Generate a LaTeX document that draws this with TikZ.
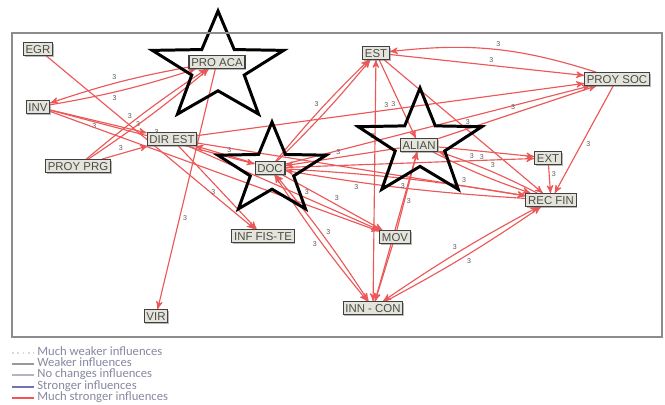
\documentclass[tikz,border=0pt]{standalone}
\usepackage{fontspec}
\setmainfont{Liberation Sans}
\newfontfamily\legendfont{Carlito}
\usetikzlibrary{arrows}
\usetikzlibrary{shadows}
\definecolor{linkred}{RGB}{236,88,88}
\definecolor{boxfill}{RGB}{228,228,218}
\definecolor{legtext}{RGB}{135,135,160}
\pgfdeclarelayer{edgelayer}
\pgfdeclarelayer{starlayer}
\pgfsetlayers{edgelayer,starlayer,main}
\tikzset{
    factor/.style={
        draw=black!75,
        fill=boxfill,
        line width=0.6pt,
        inner sep=1.3pt,
        text height=4.7pt,
        text depth=0pt,
        text=black!70,
        font=\fontsize{6.5}{6.5}\selectfont,
        drop shadow={shadow xshift=0.7pt,shadow yshift=-0.7pt,fill=black!55}},
    starline/.style={
        draw=black,
        line width=1.7pt,
        line join=miter},
    every edge/.style={
        draw=linkred,
        ->,>=stealth',
        auto,
        line width=0.65pt},
    legline/.style={line width=1pt},
    legentry/.style={
        anchor=west,
        text=legtext,
        font=\legendfont\fontsize{7.2}{7.2}\selectfont,
        inner sep=0pt,
        text height=4.2pt,
        text depth=0.9pt}}
\newcommand{\keystar}[4]{%
    \draw[starline,shift={(#1,#2)},xscale=#3,yscale=-#4]
        (90:1) -- (126:0.4) -- (162:1) -- (198:0.4) -- (234:1) -- (270:0.4)
        -- (306:1) -- (342:0.4) -- (18:1) -- (54:0.4) -- cycle;}
\begin{document}
\begin{tikzpicture}[x=0.2mm,y=-0.2mm]
    \useasboundingbox (0,0) rectangle (665,405);
    \draw[black!45,line width=1pt] (12,33) rectangle (662,337);

    % factors
    \node[factor] (egr) at (38,49) {EGR};
    \node[factor] (inv) at (38,107) {INV};
    \node[factor] (proyprg) at (78,166) {PROY PRG};
    \node[factor] (proaca) at (217,62) {PRO ACA};
    \node[factor] (direst) at (172,139) {DIR EST};
    \node[factor] (doc) at (270,168) {DOC};
    \node[factor] (inffis) at (263,236) {INF FIS-TE};
    \node[factor] (vir) at (156,316) {VIR};
    \node[factor] (est) at (376,53) {EST};
    \node[factor] (proysoc) at (617,79) {PROY SOC};
    \node[factor] (alian) at (419,145) {ALIAN};
    \node[factor] (ext) at (548,158) {EXT};
    \node[factor] (recfin) at (551,200) {REC FIN};
    \node[factor] (mov) at (395,237) {MOV};
    \node[factor] (inncon) at (373,308) {INN - CON};

    % stars
    \begin{pgfonlayer}{starlayer}
        \keystar{218}{68}{69}{57}
        \keystar{272}{170}{57}{48}
        \keystar{420}{144}{65}{56}
    \end{pgfonlayer}

    % influences
    \begin{pgfonlayer}{edgelayer}
    \begin{scope}[every node/.style={font=\fontsize{4}{4}\selectfont,text=black!65,inner sep=1pt}]
        \draw (egr) edge node[pos=0.42] {3} (inffis);
        \draw (proaca) edge[bend right=4] node[swap] {3} (inv);
        \draw (inv) edge[bend right=4] node[swap,pos=0.4] {3} (proaca);
        \draw (proyprg) edge[bend left=3] node[pos=0.4] {3} (proaca);
        \draw (proyprg) edge[bend right=3] (proaca);
        \draw (proaca) edge node[pos=0.6] {3} (vir);
        \draw (inv) edge node[swap] {3} (direst);
        \draw (inv) edge node {3} (doc);
        \draw (inv) edge (mov);
        \draw (proyprg) edge node {3} (direst);
        \draw (doc) edge node[swap] {3} (direst);
        \draw (direst) edge node {3} (proysoc);
        \draw (direst) edge node[swap] {3} (inffis);
        \draw (direst) edge node[pos=0.6] {3} (mov);
        \draw (direst) edge node[pos=0.8] {3} (recfin);
        \draw (doc) edge[bend left=3] node {3} (est);
        \draw (doc) edge[bend right=3] (est);
        \draw (proysoc) edge[bend right=12] node[swap] {3} (est);
        \draw (est) edge node {3} (proysoc);
        \draw (inncon) edge[<->] (est);
        \draw (est) edge node[swap] {3} (alian);
        \draw (est) edge node {3} (recfin);
        \draw (doc) edge node[pos=0.3] {3} (proysoc);
        \draw (alian) edge node {3} (proysoc);
        \draw (alian) edge node[swap] {3} (ext);
        \draw (doc) edge node[pos=0.75] {3} (ext);
        \draw (recfin) edge[bend right=4] node[swap] {3} (alian);
        \draw (alian) edge[bend right=4] (recfin);
        \draw (alian) edge node[swap] {3} (doc);
        \draw (recfin) edge[bend left=3] node[pos=0.7] {3} (doc);
        \draw (doc) edge[bend left=3] (recfin);
        \draw (ext) edge node {3} (recfin);
        \draw (proysoc) edge node {3} (recfin);
        \draw (doc) edge node {3} (mov);
        \draw (doc) edge[<->,bend right=3] node[swap] {3} (inncon);
        \draw (doc) edge[<->,bend left=3] node {3} (inncon);
        \draw (mov) edge node {3} (alian);
        \draw (alian) edge[<->] node[pos=0.3] {3} (inncon);
        \draw (inncon) edge[<->,bend left=3] node {3} (recfin);
        \draw (inncon) edge[bend right=3] node[swap] {3} (recfin);
        \draw (mov) edge (inncon);
    \end{scope}
    \end{pgfonlayer}

    % legend
    \draw[legline,black!15,dotted] (12,353) -- (34,353);
    \node[legentry] (lg1) at (37,353) {Much weaker influences};
    \draw[legline,black!40] (12,364) -- (34,364);
    \node[legentry] (lg2) at (37,364) {Weaker influences};
    \draw[legline,blue!30!black!30] (12,375) -- (34,375);
    \node[legentry] (lg3) at (37,375) {No changes influences};
    \draw[line width=1.6pt,blue!45!black!55] (12,387) -- (34,387);
    \node[legentry] (lg4) at (37,387) {Stronger influences};
    \draw[line width=1.3pt,linkred] (12,398) -- (34,398);
    \node[legentry] (lg5) at (37,398) {Much stronger influences};
\end{tikzpicture}
\end{document}
